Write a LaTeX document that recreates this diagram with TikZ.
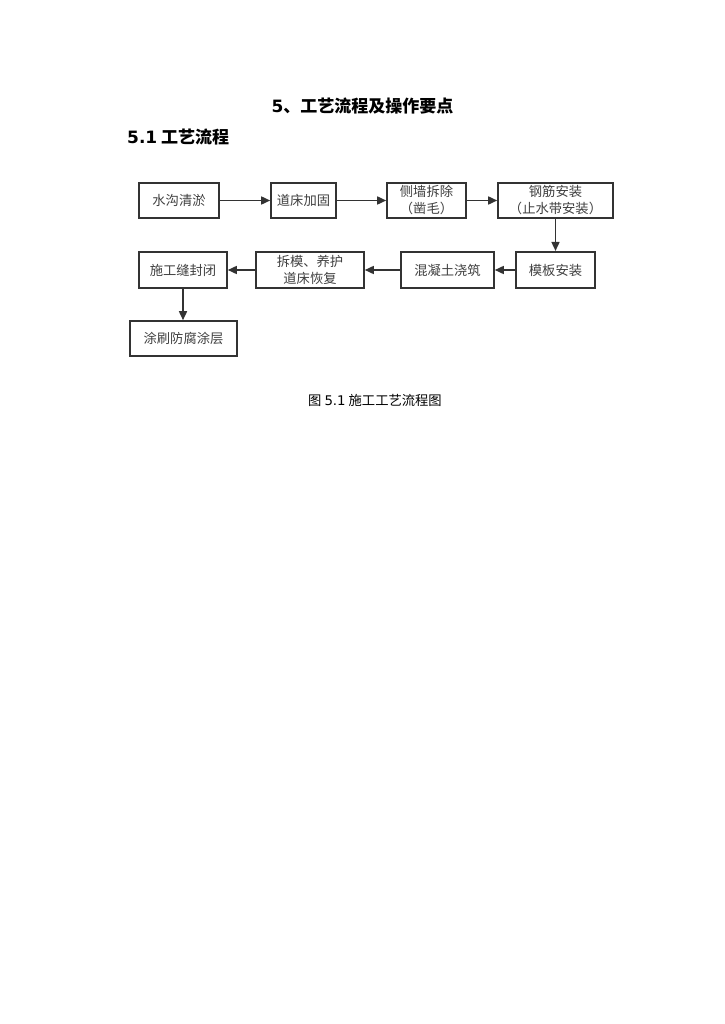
\documentclass[tikz,border=0pt]{standalone}
\usepackage{fontspec}
\setmainfont{Noto Sans CJK SC}
\newfontfamily\latinfont{DejaVu Sans}
\usetikzlibrary{arrows.meta, positioning}

\begin{document}
\begin{tikzpicture}[x=1pt, y=-1pt,
    box/.style={draw=black!80, line width=1.6pt, text=black!75, font=\fontsize{13.3}{17}\selectfont,
                align=center, inner sep=0pt, minimum height=35pt},
    flow/.style={-{Triangle[length=9pt, width=8pt]}, line width=1.6pt, black!80}]
                % Page
                \useasboundingbox[fill=white] (0,0) rectangle (724,1024);

                % Headings
                \node[font=\fontsize{17}{19}\selectfont\bfseries] (title) at (362.5,106) {{\latinfont\bfseries 5}、工艺流程及操作要点};
                \node[font=\fontsize{17}{19}\selectfont\bfseries, right, inner sep=0pt] (sub) at (127,137) {{\latinfont\bfseries 5.1} 工艺流程};

                % First row
                \node[box, minimum width=80pt] (qingyu) at (179,200.5) {水沟清淤};
                \node[box, minimum width=65pt] (jiagu) at (303.5,200.5) {道床加固};
                \node[box, minimum width=79pt] (chaichu) at (426.5,200.5) {侧墙拆除\\（凿毛）};
                \node[box, minimum width=115pt] (gangjin) at (555.5,200.5) {钢筋安装\\（止水带安装）};

                % Second row
                \node[box, minimum width=79pt, minimum height=36.5pt] (muban) at (555.5,270) {模板安装};
                \node[box, minimum width=93pt, minimum height=36.5pt] (jiaozhu) at (447.5,270) {混凝土浇筑};
                \node[box, minimum width=108pt, minimum height=36.5pt] (chaimo) at (310,270) {拆模、养护\\道床恢复};
                \node[box, minimum width=88pt, minimum height=36.5pt] (fengbi) at (183,270) {施工缝封闭};

                % Third row
                \node[box, minimum width=107pt] (tushua) at (183.5,338.5) {涂刷防腐涂层};

                % Caption
                \node[font=\fontsize{13.3}{15}\selectfont] (caption) at (375,400) {图 {\latinfont 5.1} 施工工艺流程图};

                % Arrows
                \draw[flow] (qingyu) -- (jiagu);
                \draw[flow] (jiagu) -- (chaichu);
                \draw[flow] (chaichu) -- (gangjin);
                \draw[flow] (gangjin) -- (muban);
                \draw[flow] (muban) -- (jiaozhu);
                \draw[flow] (jiaozhu) -- (chaimo);
                \draw[flow] (chaimo) -- (fengbi);
                \draw[flow] (fengbi.south) -- (fengbi.south |- tushua.north);
            \end{tikzpicture}
\end{document}
